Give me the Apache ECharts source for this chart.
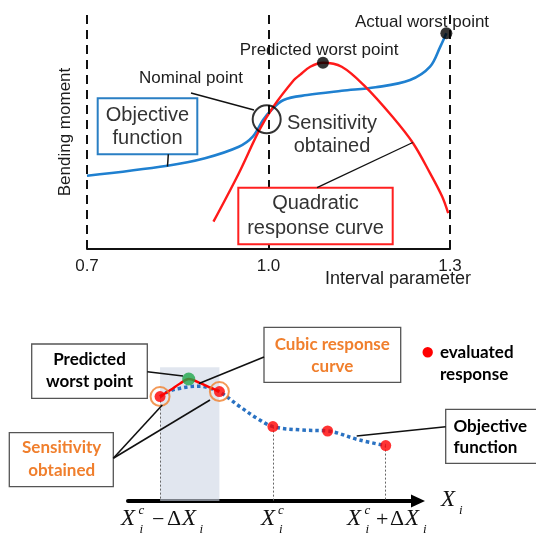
<!DOCTYPE html>
<html><head><meta charset="utf-8">
<script src="https://cdn.jsdelivr.net/npm/echarts@6/dist/echarts.min.js"></script>
<style>html,body{margin:0;padding:0;background:#fff}#c{width:536px;height:534px}</style>
</head><body><div id="c"></div>
<script>
// ---------- top panel data ----------
const topTicks = [0.7, 1.0, 1.3];
const topBlueX = [0.700,0.833,0.895,0.951,0.974,0.991,1.002,1.025,1.064,1.121,1.177,1.234,1.267,1.284,1.294];
const topBlueY = [31.3,35.6,38.8,43.7,48.0,55.1,58.7,63.7,65.8,67.6,69.1,72.2,77.9,86.5,92.2];
const topRedX  = [0.909,0.951,0.985,1.008,1.042,1.052,1.069,1.090,1.121,1.160,1.205,1.239,1.267,1.287,1.297];
const topRedY  = [11.7,32.4,50.9,60.8,72.2,74.4,77.9,79.6,77.9,69.4,56.5,45.2,32.4,22.4,15.3];
const topWorstX = [1.090, 1.294];
const topWorstY = [79.6, 92.2];
const nominalX = [0.997];
const nominalY = [55.4];

// ---------- bottom panel data ----------
const botBlueX = [-1.0,-0.908,-0.819,-0.731,-0.642,-0.562,-0.474,-0.293,-0.142,0.0,0.252,0.485,0.766,1.0];
const botBlueY = [52.2,55.2,56.4,57.2,57.4,56.4,54.7,47.2,41.4,37.2,35.5,35.0,30.5,27.7];
const botRedX  = [-1.0,-0.908,-0.819,-0.746,-0.642,-0.554,-0.474];
const botRedY  = [52.2,55.5,58.9,61.0,58.9,56.7,54.7];
const evalX = [-1.0,-0.474,0.0,0.485,1.0];
const evalY = [52.2,54.7,37.2,35.0,27.7];
const greenX = [-0.746];
const greenY = [61.0];
const sensX = [-1.0,-0.474];
const sensY = [52.2,54.7];
const shadeX = [-1.0,-0.474];
const shadeTop = 66.9;
const dropIdx = [0, 2, 4];

const zip = (a,b) => a.map((v,i)=>[v,b[i]]);

const SANS = '"Liberation Sans", Arial, sans-serif';
const BOLD = 'Lato, "Liberation Sans", sans-serif';
const SERIF = '"Liberation Serif", "Times New Roman", serif';
const ORANGE = '#f07f2d';

function txt(x,y,s,font,fill,align){
  return {type:'text', x:x, y:y, z:100, silent:true,
    style:{text:s, font:font, fill:fill||'#1c1c1c', align:align||'center', verticalAlign:'middle'}};
}
function rect(x,y,w,h,stroke,lw){
  return {type:'rect', z:90, silent:true, shape:{x:x,y:y,width:w,height:h},
    style:{fill:'#fff', stroke:stroke, lineWidth:lw||2}};
}
function seg(x1,y1,x2,y2,lw,col){
  return {type:'line', z:95, silent:true, shape:{x1:x1,y1:y1,x2:x2,y2:y2},
    style:{stroke:col||'#111', lineWidth:lw||1.3}};
}
function mathParts(parts){
  return parts.map(p => txt(p[1], p[2], p[0],
    (p[4]?'italic ':'') + p[3] + 'px ' + SERIF, '#111', 'left'));
}

const graphics = [
  // top panel annotations
  txt(422, 22, 'Actual worst point', '17px '+SANS),
  txt(319, 50, 'Predicted worst point', '17px '+SANS),
  txt(191, 78, 'Nominal point', '17px '+SANS),
  seg(191, 93, 254, 110, 1.3),
  rect(97.7, 98.3, 99.6, 56, '#2a7fc4', 2),
  txt(147.5, 115, 'Objective', '20px '+SANS, '#333'),
  txt(147.5, 138.5, 'function', '20px '+SANS, '#333'),
  seg(168.3, 154.3, 167.5, 166.5, 1.5),
  txt(332, 123.3, 'Sensitivity', '20px '+SANS, '#333'),
  txt(332, 146, 'obtained', '20px '+SANS, '#333'),
  rect(238.3, 187.7, 154.4, 56.6, '#ff2020', 2),
  txt(315.5, 203.5, 'Quadratic', '20px '+SANS, '#333'),
  txt(315.5, 228.5, 'response curve', '20px '+SANS, '#333'),
  seg(317, 187.7, 412.8, 142.5, 1.3),
  txt(398, 279.5, 'Interval parameter', '18px '+SANS),
  {type:'text', x:65, y:132, rotation:Math.PI/2, z:100, silent:true,
    style:{text:'Bending moment', font:'17px '+SANS, fill:'#1c1c1c', align:'center', verticalAlign:'middle'}},

  // bottom panel annotations
  rect(31.7, 344, 115.6, 54.3, '#555', 1.3),
  txt(89.5, 359.5, 'Predicted', 'bold 17px '+BOLD, '#000'),
  txt(89.5, 382, 'worst point', 'bold 17px '+BOLD, '#000'),
  seg(147.3, 371.7, 183, 376, 1.6),
  rect(264, 327.3, 136.7, 55, '#555', 1.3),
  txt(332.3, 344.5, 'Cubic response', 'bold 17px '+BOLD, ORANGE),
  txt(332.3, 367, 'curve', 'bold 17px '+BOLD, ORANGE),
  seg(264, 357, 199, 383.5, 1.6),
  {type:'circle', z:100, silent:true, shape:{cx:427.7, cy:352.3, r:5.2}, style:{fill:'#ff0000'}},
  txt(440, 352.5, 'evaluated', 'bold 17px '+BOLD, '#000', 'left'),
  txt(440, 374.5, 'response', 'bold 17px '+BOLD, '#000', 'left'),
  rect(445.7, 409.3, 100, 54, '#555', 1.3),
  txt(453.5, 426.5, 'Objective', 'bold 17px '+BOLD, '#000', 'left'),
  txt(453.5, 448, 'function', 'bold 17px '+BOLD, '#000', 'left'),
  seg(445.7, 426.7, 356.7, 436, 1.6),
  rect(9.3, 432.7, 104, 54, '#555', 1.3),
  txt(61.7, 448, 'Sensitivity', 'bold 17px '+BOLD, ORANGE),
  txt(61.7, 470.5, 'obtained', 'bold 17px '+BOLD, ORANGE),
  seg(113.3, 458.3, 162.3, 405, 1.6),
  seg(113.3, 458.3, 210, 400, 1.6),
].concat(mathParts([
  ['X',121,519,23,true],['c',138.5,511,13,true],['i',139.5,530,13,true],
  ['\u2212',152,520,22,false],['\u0394',167,519,22,false],['X',182,519,23,true],['i',199.5,530,13,true],
  ['X',261,519,23,true],['c',278,511,13,true],['i',279,530,13,true],
  ['X',347,519,23,true],['c',364.5,511,13,true],['i',365.5,530,13,true],
  ['+',376,520,22,false],['\u0394',390,519,22,false],['X',405,519,23,true],['i',423,530,13,true],
  ['X',441,500,23,true],['i',459,511,13,true]
]));

const chart = echarts.init(document.getElementById('c'), null, {renderer:'canvas'});
chart.setOption({
  animation:false,
  backgroundColor:'#fff',
  grid:[
    {left:87, right:86, top:15, bottom:285},
    {left:128, right:118, top:301, bottom:33}
  ],
  xAxis:[
    {type:'value', gridIndex:0, min:0.7, max:1.3, splitLine:{show:false},
     axisLine:{show:true, onZero:false, lineStyle:{color:'#111', width:2}},
     axisTick:{show:true, inside:true, length:4, customValues:[1.0], lineStyle:{color:'#111',width:1.5}},
     axisLabel:{show:true, customValues:topTicks, formatter:v=>Number(v).toFixed(1),
       fontSize:17, color:'#1c1c1c', fontFamily:'Liberation Sans', margin:9}},
    {type:'value', gridIndex:1, min:-1.284, max:1.286, splitLine:{show:false},
     axisLine:{show:true, onZero:false, symbol:['none','triangle'], symbolSize:[13,14],
       lineStyle:{color:'#000', width:4}},
     axisTick:{show:false}, axisLabel:{show:false}}
  ],
  yAxis:[
    {type:'value', gridIndex:0, min:0, max:100, show:false},
    {type:'value', gridIndex:1, min:0, max:100, show:false}
  ],
  series:[
    {type:'line', xAxisIndex:0, yAxisIndex:0, data:zip(topBlueX, topBlueY), smooth:0.35,
     symbol:'none', lineStyle:{color:'#1f80d0', width:2.6}, z:3,
     markLine:{silent:true, symbol:'none', label:{show:false},
       lineStyle:{color:'#111', type:[9,6], width:2},
       data: topTicks.map(v=>({xAxis:v}))}},
    {type:'line', xAxisIndex:0, yAxisIndex:0, data:zip(topRedX, topRedY), smooth:0.35,
     symbol:'none', lineStyle:{color:'#ff1a1a', width:2.4}, z:3},
    {type:'scatter', xAxisIndex:0, yAxisIndex:0, data:zip(topWorstX, topWorstY), symbolSize:12,
     itemStyle:{color:'#000'}, z:5},
    {type:'scatter', xAxisIndex:0, yAxisIndex:0, data:zip(nominalX, nominalY), symbolSize:28,
     itemStyle:{color:'rgba(0,0,0,0)', borderColor:'#000', borderWidth:2}, z:5},

    {type:'line', xAxisIndex:1, yAxisIndex:1, data:zip(botBlueX, botBlueY), smooth:0.35,
     symbol:'none', lineStyle:{color:'#2a72c2', width:3.5, type:[3.5,3]}, z:3,
     markArea:{silent:true, itemStyle:{color:'rgba(205,214,228,0.6)'},
       data:[[{xAxis:shadeX[0], yAxis:0},{xAxis:shadeX[1], yAxis:shadeTop}]]}},
    {type:'line', xAxisIndex:1, yAxisIndex:1, data:zip(botRedX, botRedY), smooth:0.35,
     symbol:'none', lineStyle:{color:'#ff0000', width:2.5}, z:4},
    {type:'scatter', xAxisIndex:1, yAxisIndex:1, data:zip(sensX, sensY), symbolSize:19,
     itemStyle:{color:'rgba(0,0,0,0)', borderColor:ORANGE, borderWidth:2}, z:5},
    {type:'scatter', xAxisIndex:1, yAxisIndex:1, data:zip(evalX, evalY), symbolSize:11,
     itemStyle:{color:'#ff0000'}, z:6,
     markLine:{silent:true, symbol:'none', label:{show:false},
       lineStyle:{color:'#666', type:[2,2], width:1},
       data: dropIdx.map(i=>[{coord:[evalX[i], evalY[i]]},{coord:[evalX[i], 0]}])}},
    {type:'scatter', xAxisIndex:1, yAxisIndex:1, data:zip(greenX, greenY), symbolSize:13,
     itemStyle:{color:'#1fa84a'}, z:6}
  ],
  graphic: graphics
});
</script></body></html>
